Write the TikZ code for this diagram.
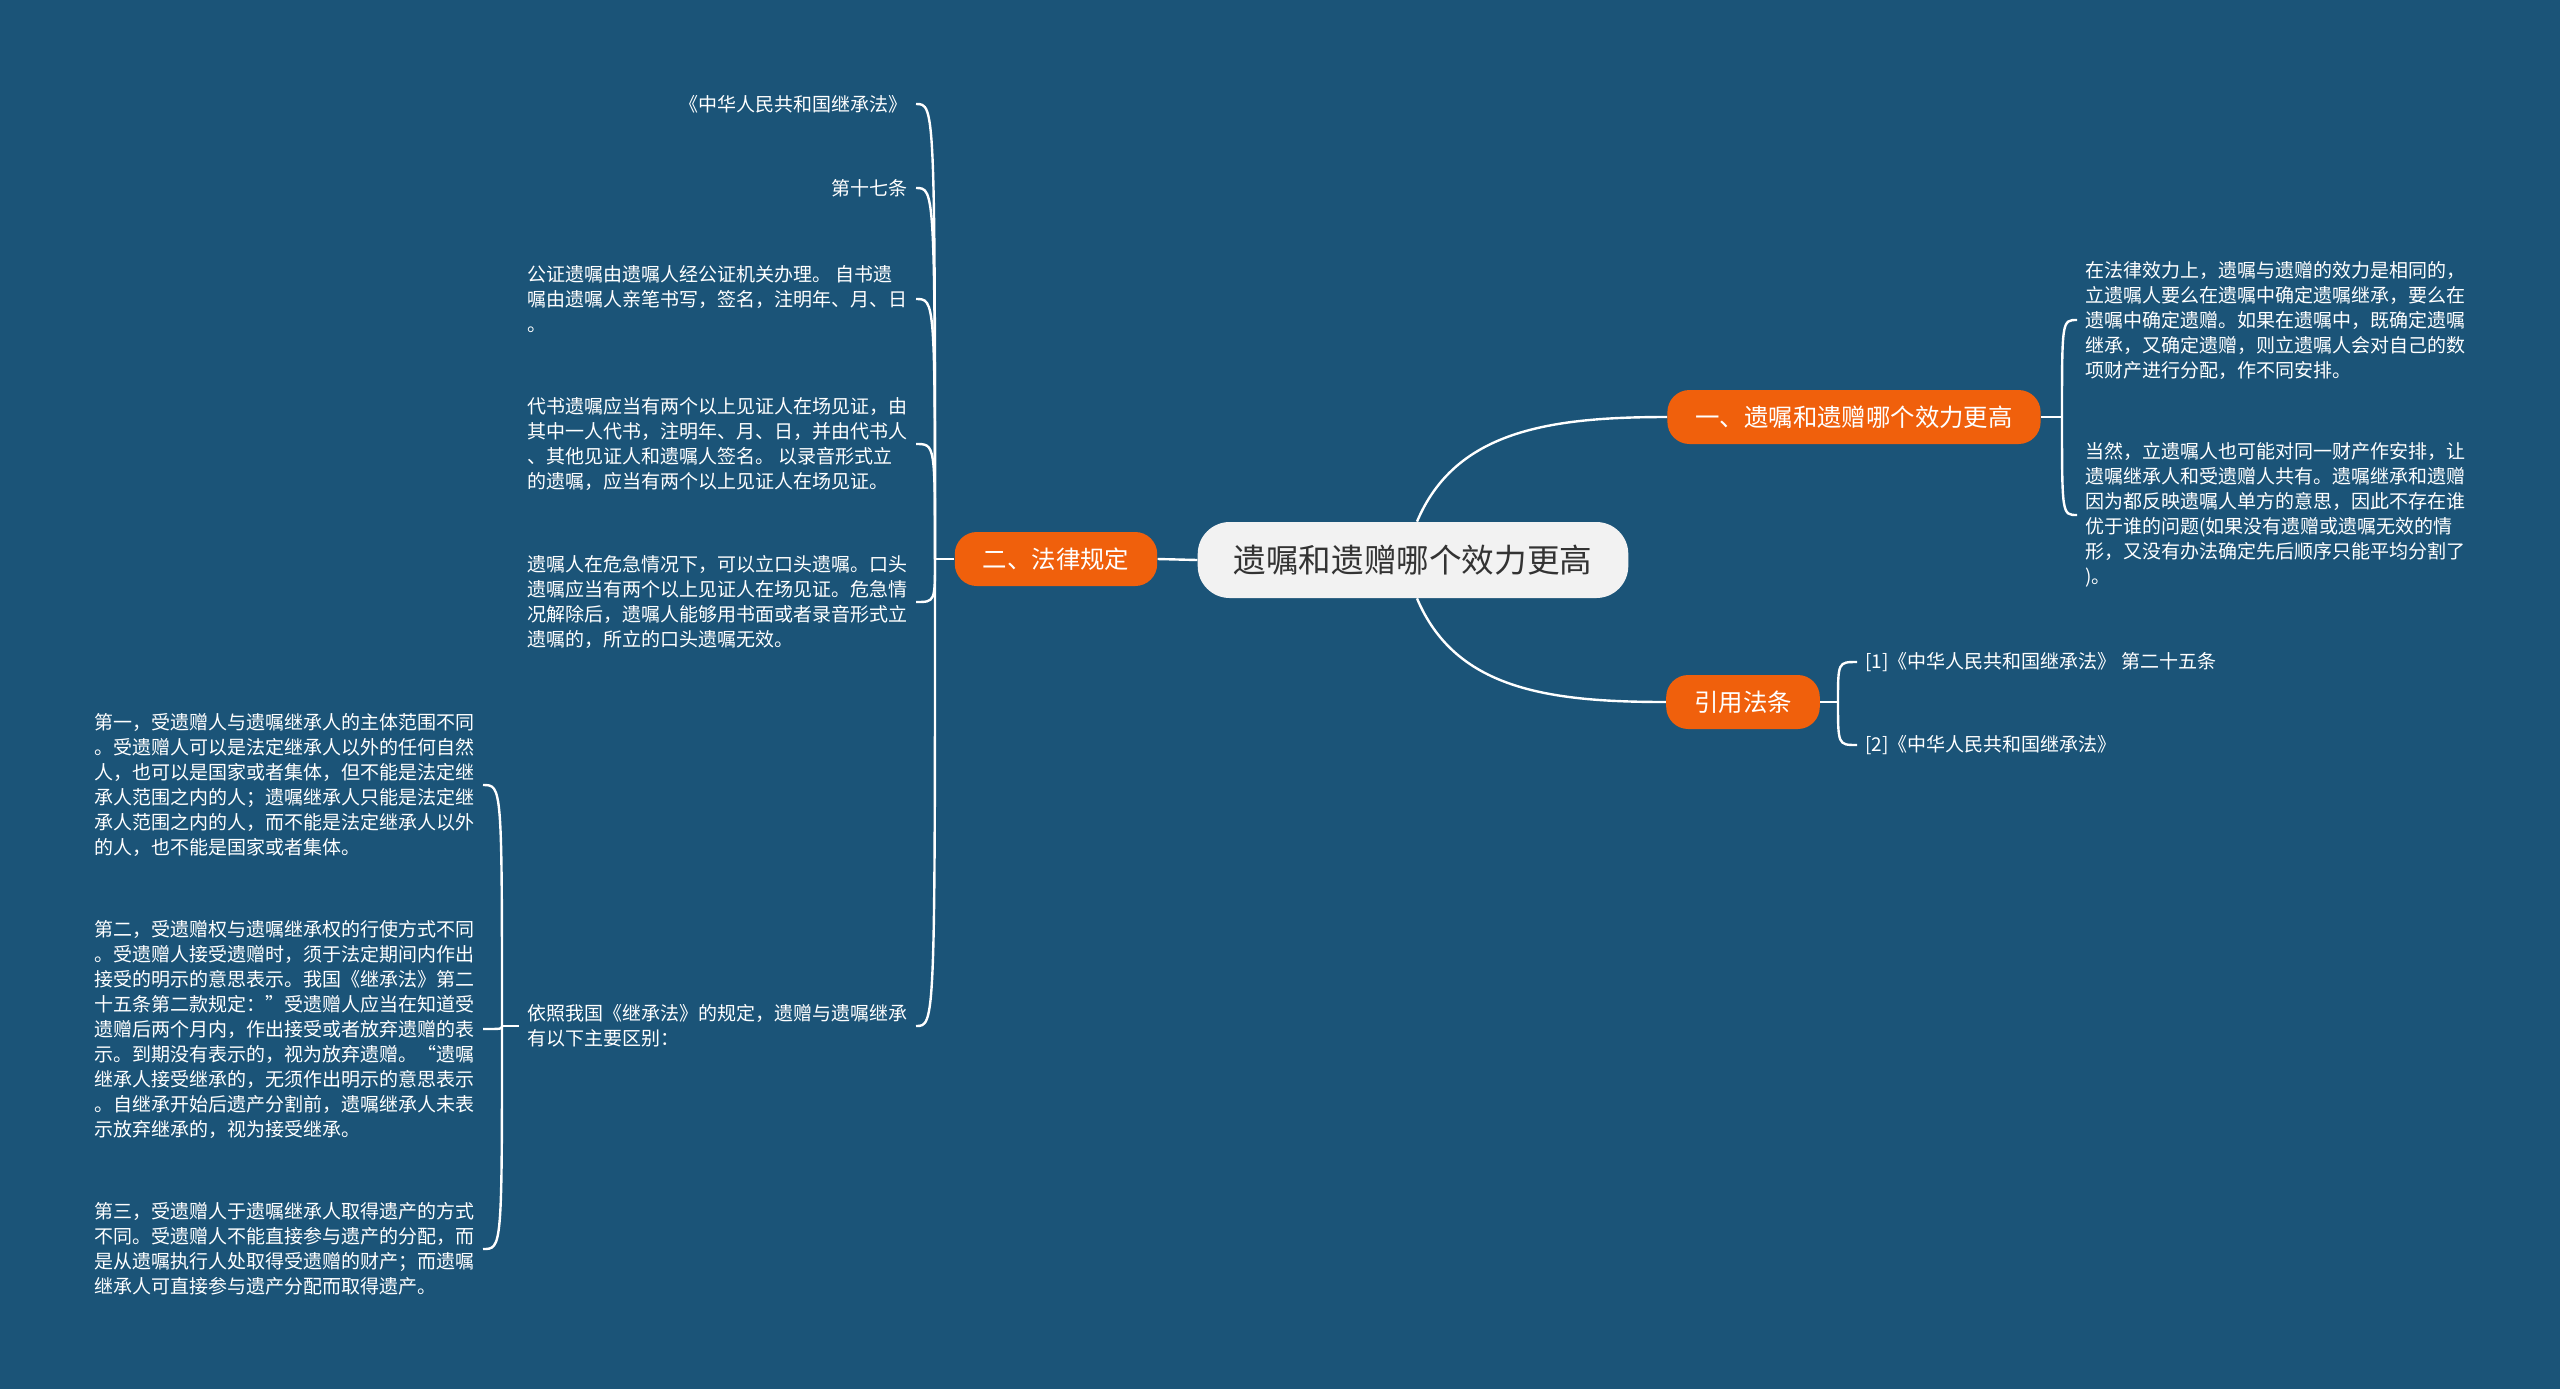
\documentclass[tikz,border=0pt]{standalone}
\usepackage{fontspec}
\usepackage{xcolor}
\usepackage{tikz}
\setmainfont{Noto Sans CJK SC}
\definecolor{mapaFondo}{HTML}{1B5478}
\definecolor{mapaNaranja}{HTML}{F0600C}
\definecolor{mapaRaiz}{HTML}{F2F2F2}
\definecolor{mapaRaizTexto}{HTML}{333333}

\begin{document}
\begin{tikzpicture}[x=0.5pt, y=-0.5pt,
  raiz/.style={fill=mapaRaiz, text=mapaRaizTexto, rounded corners=16pt, minimum height=38pt, inner xsep=18pt, font=\fontsize{16.3}{20}\selectfont},
  rama/.style={fill=mapaNaranja, text=white, rounded corners=11pt, minimum height=27pt, inner xsep=14pt, font=\fontsize{12.2}{15}\selectfont},
  hoja/.style={text=white, align=left, inner xsep=4pt, inner ysep=0pt, font=\fontsize{9.5}{12.5}\selectfont},
  enlace/.style={draw=white, line width=1.2pt},
]
  % Fondo
  \useasboundingbox (0,0) rectangle (2560,1388);
  \fill[mapaFondo] (-4,-4) rectangle (2564,1392);

  % Tema central y ramas
  \node[raiz] (raiz) at (1413,560) {遗嘱和遗赠哪个效力更高};
  \node[rama] (efecto) at (1854,417) {一、遗嘱和遗赠哪个效力更高};
  \node[rama] (ley) at (1056,559) {二、法律规定};
  \node[rama] (cita) at (1743,702) {引用法条};

  \draw[enlace] ([xshift=2pt]raiz.north) .. controls +(38,-90) and +(-120,0) .. (efecto.west);
  \draw[enlace] ([xshift=2pt]raiz.south) .. controls +(38,90) and +(-120,0) .. (cita.west);
  \draw[enlace] (raiz.west) -- (ley.east);

  % Rama "二、法律规定" (hojas a la izquierda)
  \coordinate (jLey) at (935,559);
  \node[hoja, anchor=east] (ley1) at (916,104) {《中华人民共和国继承法》};
  \node[hoja, anchor=east] (ley2) at (916,188) {第十七条};
  \node[hoja, anchor=east] (ley3) at (916,299) {公证遗嘱由遗嘱人经公证机关办理。 自书遗\\嘱由遗嘱人亲笔书写，签名，注明年、月、日\\。};
  \node[hoja, anchor=east] (ley4) at (916,444) {代书遗嘱应当有两个以上见证人在场见证，由\\其中一人代书，注明年、月、日，并由代书人\\、其他见证人和遗嘱人签名。 以录音形式立\\的遗嘱，应当有两个以上见证人在场见证。};
  \node[hoja, anchor=east] (ley5) at (916,602) {遗嘱人在危急情况下，可以立口头遗嘱。口头\\遗嘱应当有两个以上见证人在场见证。危急情\\况解除后，遗嘱人能够用书面或者录音形式立\\遗嘱的，所立的口头遗嘱无效。};
  \node[hoja, anchor=east] (ley6) at (916,1026) {依照我国《继承法》的规定，遗赠与遗嘱继承\\有以下主要区别：};

  \draw[enlace] (ley.west) -- (jLey);
  \foreach \h in {ley1,ley2,ley3,ley4,ley5,ley6}
    \draw[enlace] (jLey) .. controls (jLey |- \h.east) .. (\h.east);

  % Diferencias (tres bloques)
  \coordinate (jDif) at (502,1026);
  \node[hoja, anchor=east] (dif1) at (483,785) {第一，受遗赠人与遗嘱继承人的主体范围不同\\。受遗赠人可以是法定继承人以外的任何自然\\人，也可以是国家或者集体，但不能是法定继\\承人范围之内的人；遗嘱继承人只能是法定继\\承人范围之内的人，而不能是法定继承人以外\\的人，也不能是国家或者集体。};
  \node[hoja, anchor=east] (dif2) at (483,1029) {第二，受遗赠权与遗嘱继承权的行使方式不同\\。受遗赠人接受遗赠时，须于法定期间内作出\\接受的明示的意思表示。我国《继承法》第二\\十五条第二款规定：”受遗赠人应当在知道受\\遗赠后两个月内，作出接受或者放弃遗赠的表\\示。到期没有表示的，视为放弃遗赠。“遗嘱\\继承人接受继承的，无须作出明示的意思表示\\。自继承开始后遗产分割前，遗嘱继承人未表\\示放弃继承的，视为接受继承。};
  \node[hoja, anchor=east] (dif3) at (483,1249) {第三，受遗赠人于遗嘱继承人取得遗产的方式\\不同。受遗赠人不能直接参与遗产的分配，而\\是从遗嘱执行人处取得受遗赠的财产；而遗嘱\\继承人可直接参与遗产分配而取得遗产。};

  \draw[enlace] (ley6.west) -- (jDif);
  \foreach \h in {dif1,dif2,dif3}
    \draw[enlace] (jDif) .. controls (jDif |- \h.east) .. (\h.east);

  % Rama "一、..." (hojas a la derecha)
  \coordinate (jEfecto) at (2062,417);
  \node[hoja, anchor=west] (efecto1) at (2077,320) {在法律效力上，遗嘱与遗赠的效力是相同的，\\立遗嘱人要么在遗嘱中确定遗嘱继承，要么在\\遗嘱中确定遗赠。如果在遗嘱中，既确定遗嘱\\继承，又确定遗赠，则立遗嘱人会对自己的数\\项财产进行分配，作不同安排。};
  \node[hoja, anchor=west] (efecto2) at (2077,515) {当然，立遗嘱人也可能对同一财产作安排，让\\遗嘱继承人和受遗赠人共有。遗嘱继承和遗赠\\因为都反映遗嘱人单方的意思，因此不存在谁\\优于谁的问题(如果没有遗赠或遗嘱无效的情\\形，又没有办法确定先后顺序只能平均分割了\\)。};

  \draw[enlace] (efecto.east) -- (jEfecto);
  \foreach \h in {efecto1,efecto2}
    \draw[enlace] (jEfecto) .. controls (jEfecto |- \h.west) .. (\h.west);

  % Rama "引用法条"
  \coordinate (jCita) at (1838,702);
  \node[hoja, anchor=west] (cita1) at (1857,662) {[1]《中华人民共和国继承法》 第二十五条};
  \node[hoja, anchor=west] (cita2) at (1857,745) {[2]《中华人民共和国继承法》};

  \draw[enlace] (cita.east) -- (jCita);
  \foreach \h in {cita1,cita2}
    \draw[enlace] (jCita) .. controls (jCita |- \h.west) .. (\h.west);
\end{tikzpicture}
\end{document}
